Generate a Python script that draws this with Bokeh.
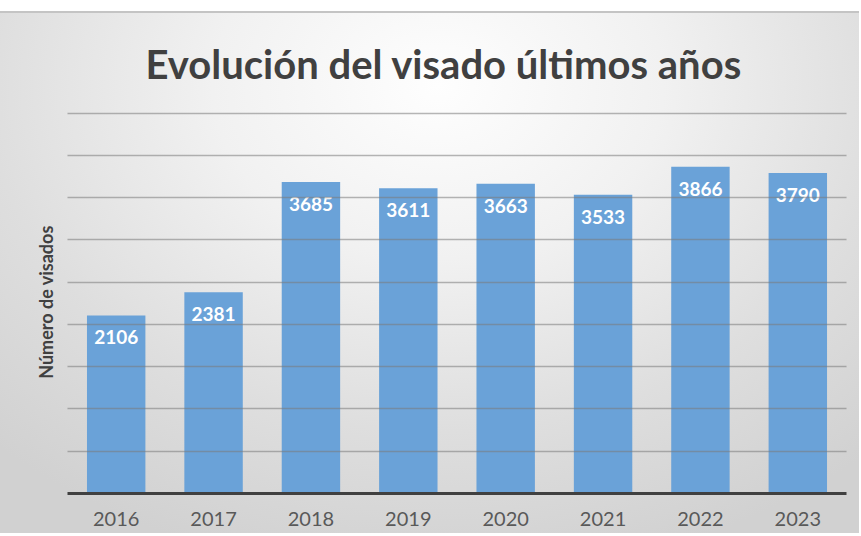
from bokeh.plotting import figure
from bokeh.models import ColumnDataSource, FixedTicker
from bokeh.core.properties import value
from bokeh.embed import file_html
from bokeh.resources import INLINE

years = ["2016", "2017", "2018", "2019", "2020", "2021", "2022", "2023"]
visados = [2106, 2381, 3685, 3611, 3663, 3533, 3866, 3790]
labels = [str(v) for v in visados]
y_ticks = [0, 500, 1000, 1500, 2000, 2500, 3000, 3500, 4000, 4500]

src = ColumnDataSource(dict(x=years, top=visados, label=labels))

p = figure(x_range=years, y_range=(0, 4530), width=859, height=522,
           output_backend="svg", toolbar_location=None,
           title="Evolución del visado últimos años",
           min_border_left=67, min_border_right=13,
           min_border_top=97, min_border_bottom=42)

p.border_fill_color = None
p.background_fill_color = None
p.outline_line_color = None
p.styles = {"background-image": "radial-gradient(ellipse 75% 95% at 51% 14%, #fefefe 0%, #f1f1f1 35%, #dedede 70%, #d1d1d1 100%)",
            "border-top": "2px solid #c4c4c4",
            "margin-top": "11px"}

p.title.text_font = "Lato"
p.title.text_font_style = "bold"
p.title.text_font_size = "40px"
p.title.text_color = "#404040"
p.title.align = "left"
p.title.offset = 78
p.title.standoff = 45

p.vbar(x="x", top="top", width=0.6, source=src, fill_color="#6aa2d8",
       line_color=None)

p.text(x="x", y="top", text="label", source=src, text_align="center",
       text_baseline="top", y_offset=15, text_color="white",
       text_font=value("Lato"), text_font_style="bold", text_font_size="19px")

p.xgrid.grid_line_color = None
p.ygrid.ticker = FixedTicker(ticks=y_ticks)
p.ygrid.grid_line_color = "#7a7a7a"
p.ygrid.grid_line_alpha = 0.55
p.ygrid.grid_line_width = 1.5
p.ygrid.level = "overlay"

p.yaxis.ticker = FixedTicker(ticks=[])
p.yaxis.axis_line_color = None
p.yaxis.major_tick_line_color = None
p.yaxis.minor_tick_line_color = None
p.yaxis.major_tick_out = 0
p.yaxis.major_label_standoff = 0
p.yaxis.axis_label = "Número de visados"
p.yaxis.axis_label_text_font = "Lato"
p.yaxis.axis_label_text_font_style = "bold"
p.yaxis.axis_label_text_font_size = "18px"
p.yaxis.axis_label_text_color = "#404040"
p.yaxis.axis_label_standoff = 11

p.xaxis.axis_line_color = "#404040"
p.xaxis.axis_line_width = 3
p.xaxis.major_tick_line_color = None
p.xaxis.major_tick_out = 0
p.xaxis.major_label_standoff = 18
p.xaxis.major_label_text_font = "Lato"
p.xaxis.major_label_text_font_size = "20px"
p.xaxis.major_label_text_color = "#595959"

open("out.html", "w").write(file_html(p, INLINE))
